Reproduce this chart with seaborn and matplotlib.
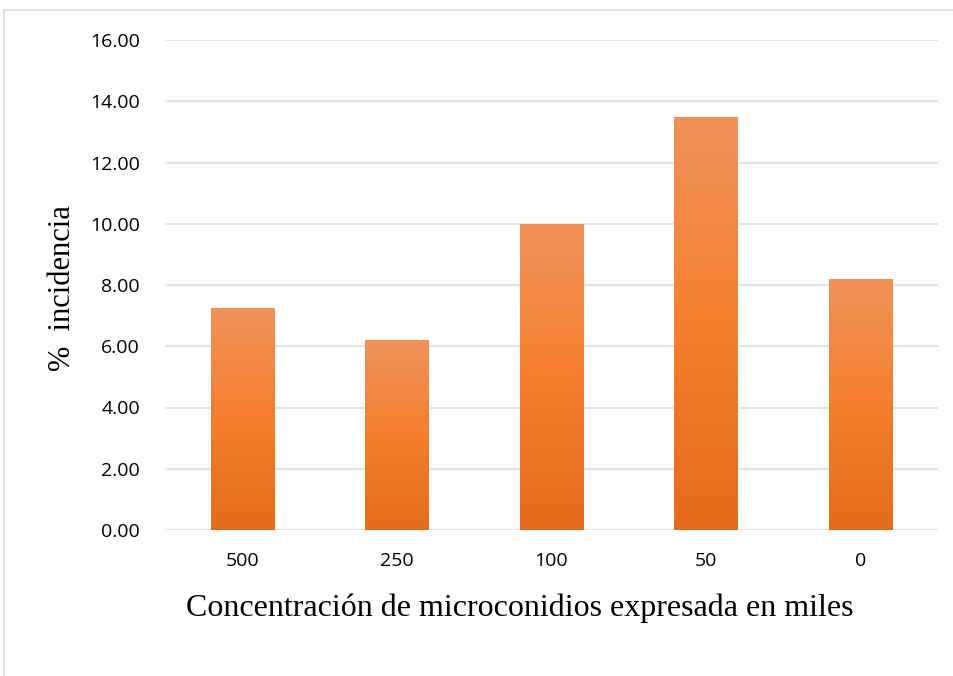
import numpy as np
import pandas as pd
import matplotlib
matplotlib.use("Agg")
import matplotlib.pyplot as plt
import seaborn as sns
from matplotlib.colors import LinearSegmentedColormap
from matplotlib.patches import Rectangle

categories = ["500", "250", "100", "50", "0"]
values = [7.25, 6.2, 10.0, 13.48, 8.2]
yticks = [0, 2, 4, 6, 8, 10, 12, 14, 16]

df = pd.DataFrame({"conc": categories, "inc": values})

sns.set_theme(style="white")
fig = plt.figure(figsize=(9.54, 6.76), dpi=100)
ax = fig.add_axes([165/954, 1-530/676, (938-165)/954, (530-40)/676])

sns.barplot(data=df, x="conc", y="inc", order=categories, color="#F47F2C",
            width=0.41, ax=ax, saturation=1)

cmap = LinearSegmentedColormap.from_list("og", ["#E46B1A", "#F57F2C", "#F0925C"])
grad = np.linspace(0, 1, 256).reshape(-1, 1)
for p in ax.patches:
    x0, y0 = p.get_x(), p.get_y()
    w, h = p.get_width(), p.get_height()
    im = ax.imshow(grad, cmap=cmap, aspect="auto", origin="lower",
                   extent=[x0, x0 + w, y0, y0 + h], zorder=p.get_zorder() + 0.1)
    im.set_clip_path(p)

ax.set_xlim(-0.5, len(categories) - 0.5)
ax.set_ylim(0, 16)
ax.set_yticks(yticks)
ax.set_yticklabels([f"{v:.2f}" for v in yticks])
ax.yaxis.grid(True, color="#DFE2E8", linewidth=1.5)
ax.set_axisbelow(True)
for s in ax.spines.values():
    s.set_visible(False)
ax.tick_params(axis="both", length=0, labelsize=14, colors="black")
ax.tick_params(axis="x", pad=16)
ax.tick_params(axis="y", pad=18)
for lab in ax.get_xticklabels() + ax.get_yticklabels():
    lab.set_fontfamily("Open Sans")

ax.set_xlabel("Concentración de microconidios expresada en miles",
              fontfamily="Liberation Serif", fontsize=23, color="black")
ax.xaxis.set_label_coords(0.459, -0.159)
ax.xaxis.label.set_va("center")
ax.set_ylabel("%  incidencia", fontfamily="Liberation Serif", fontsize=22, color="black")
ax.yaxis.set_label_coords(-0.133, 0.494)
ax.yaxis.label.set_va("center")

fig.patches.append(Rectangle((4/954, -0.1), 1.1, 1 - 10/676 + 0.1, transform=fig.transFigure,
                             fill=False, edgecolor="#DCDDE3", linewidth=1.2))

fig.savefig("out.png", dpi=100)
